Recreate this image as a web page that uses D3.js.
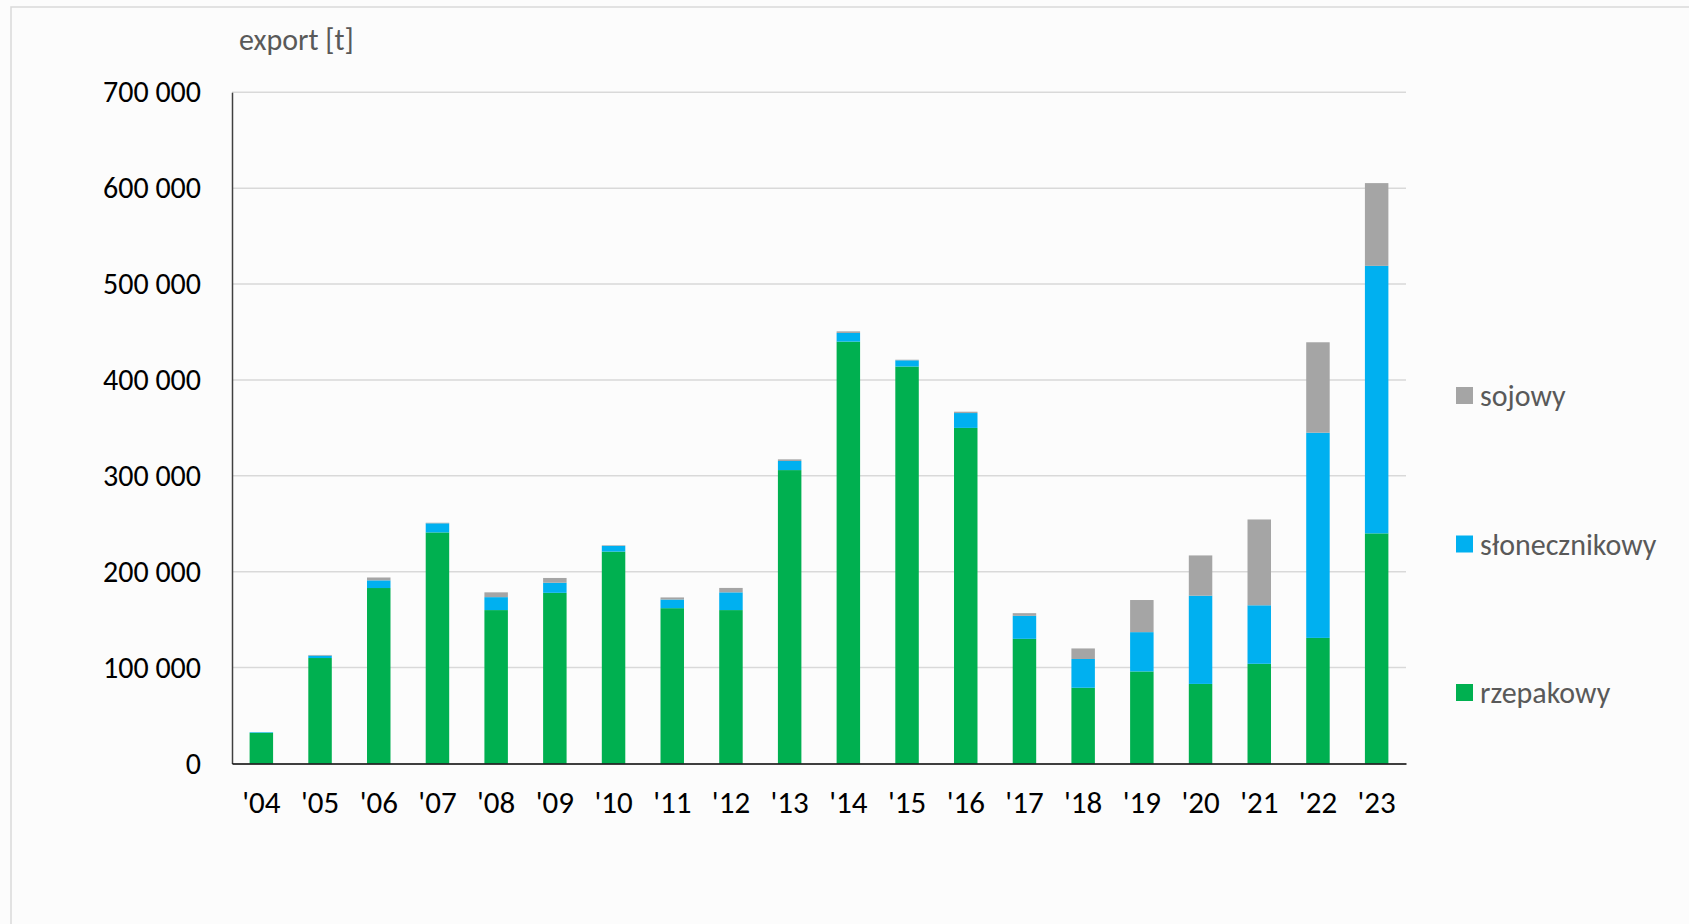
<!DOCTYPE html>
<html>
<head>
<meta charset="utf-8">
<script src="https://cdn.jsdelivr.net/npm/d3@7"></script>
<style>
  html, body { margin: 0; padding: 0; background: #fcfcfc; }
  svg { display: block; }
  text { font-family: Calibri, Carlito, Lato, sans-serif; }
</style>
</head>
<body>
<svg id="chart" width="1689" height="924"></svg>
<script>
// data, export in tonnes
var years = ["'04","'05","'06","'07","'08","'09","'10","'11","'12","'13",
             "'14","'15","'16","'17","'18","'19","'20","'21","'22","'23"];
var rzepakowy = [32000, 110000, 183000, 241000, 160000, 178000, 221000, 162000, 160000, 306000,
                 440000, 414000, 350000, 130000, 79000, 96000, 83000, 104000, 131000, 240000];
var slonecznikowy = [600, 2500, 8000, 9500, 13500, 10500, 6000, 9000, 18500, 9500,
                     9000, 6500, 15500, 24000, 30000, 41000, 92000, 61000, 214000, 279000];
var sojowy = [0, 700, 3000, 600, 5000, 5000, 600, 2200, 4600, 1700,
              1700, 600, 1400, 2800, 11000, 33500, 42000, 89500, 94300, 86300];
var yTicks = [0, 100000, 200000, 300000, 400000, 500000, 600000, 700000];
var seriesKeys = ["rzepakowy", "slonecznikowy", "sojowy"];
var seriesNames = {rzepakowy: "rzepakowy", slonecznikowy: "słonecznikowy", sojowy: "sojowy"};
var colors = {rzepakowy: "#00b050", slonecznikowy: "#00b0f0", sojowy: "#a5a5a5"};

var mainSvg = d3.select("#chart");
var plotLeft = 232, plotRight = 1406, plotTop = 92.3, plotBottom = 763.5;

// outer frame of the chart area
mainSvg.append("path")
    .attr("d", "M 11 940 L 11 7 L 1700 7")
    .attr("fill", "none")
    .attr("stroke", "#d9d9d9")
    .attr("stroke-width", 1.5);

var table = years.map(function(yr, i) {
    return {year: yr, rzepakowy: rzepakowy[i], slonecznikowy: slonecznikowy[i], sojowy: sojowy[i]};
});
var stacked = d3.stack().keys(seriesKeys)(table);

var x = d3.scaleBand().domain(years).range([plotLeft, plotRight]).paddingInner(0.6).paddingOuter(0.3);
var y = d3.scaleLinear().domain([0, 700000]).range([plotBottom, plotTop]);

var locale = d3.formatLocale({decimal: ",", thousands: " ", grouping: [3], currency: ["", ""]});
var fmt = locale.format(",");

// gridlines
mainSvg.append("g")
    .selectAll("line")
    .data(yTicks.filter(function(d) { return d > 0; }))
    .join("line")
    .attr("x1", plotLeft)
    .attr("x2", plotRight)
    .attr("y1", function(d) { return y(d); })
    .attr("y2", function(d) { return y(d); })
    .attr("stroke", "#d9d9d9")
    .attr("stroke-width", 1.5);

// stacked bars
mainSvg.append("g")
    .selectAll("g")
    .data(stacked)
    .join("g")
    .attr("fill", function(d) { return colors[d.key]; })
    .selectAll("rect")
    .data(function(d) { return d; })
    .join("rect")
    .attr("x", function(d) { return x(d.data.year); })
    .attr("width", x.bandwidth())
    .attr("y", function(d) { return y(d[1]); })
    .attr("height", function(d) { return Math.max(0, y(d[0]) - y(d[1])); });

// y axis
var yAxis = mainSvg.append("g")
    .attr("transform", "translate(" + plotLeft + ",0)")
    .call(d3.axisLeft(y).tickValues(yTicks).tickFormat(fmt).tickSize(0).tickPadding(31));
yAxis.select(".domain").attr("stroke", "#404040").attr("stroke-width", 1.5);
yAxis.selectAll("text")
    .attr("font-size", 30)
    .attr("fill", "#000")
    .style("font-family", "Calibri, Carlito, Lato, sans-serif");

// x axis
var xAxis = mainSvg.append("g")
    .attr("transform", "translate(0," + plotBottom + ")")
    .call(d3.axisBottom(x).tickSize(0).tickPadding(27));
xAxis.select(".domain").attr("stroke", "#000").attr("stroke-width", 1.5);
xAxis.selectAll("text")
    .attr("font-size", 31)
    .attr("fill", "#000")
    .style("font-family", "Calibri, Carlito, Lato, sans-serif");

// axis title
mainSvg.append("text")
    .text("export [t]")
    .attr("x", 239)
    .attr("y", 50)
    .attr("font-size", 30)
    .attr("fill", "#595959");

// legend, top to bottom: sojowy, słonecznikowy, rzepakowy
var legendKeys = ["sojowy", "slonecznikowy", "rzepakowy"];
var legendY = d3.scalePoint().domain(legendKeys).range([395.5, 692.5]);
var legend = mainSvg.append("g")
    .selectAll("g")
    .data(legendKeys)
    .join("g")
    .attr("transform", function(d) { return "translate(1456," + legendY(d) + ")"; });
legend.append("rect")
    .attr("x", 0)
    .attr("y", -8.5)
    .attr("width", 17)
    .attr("height", 17)
    .attr("fill", function(d) { return colors[d]; });
legend.append("text")
    .text(function(d) { return seriesNames[d]; })
    .attr("x", 24)
    .attr("y", 0)
    .attr("dy", "0.35em")
    .attr("font-size", 30)
    .attr("fill", "#595959");
</script>
</body>
</html>
